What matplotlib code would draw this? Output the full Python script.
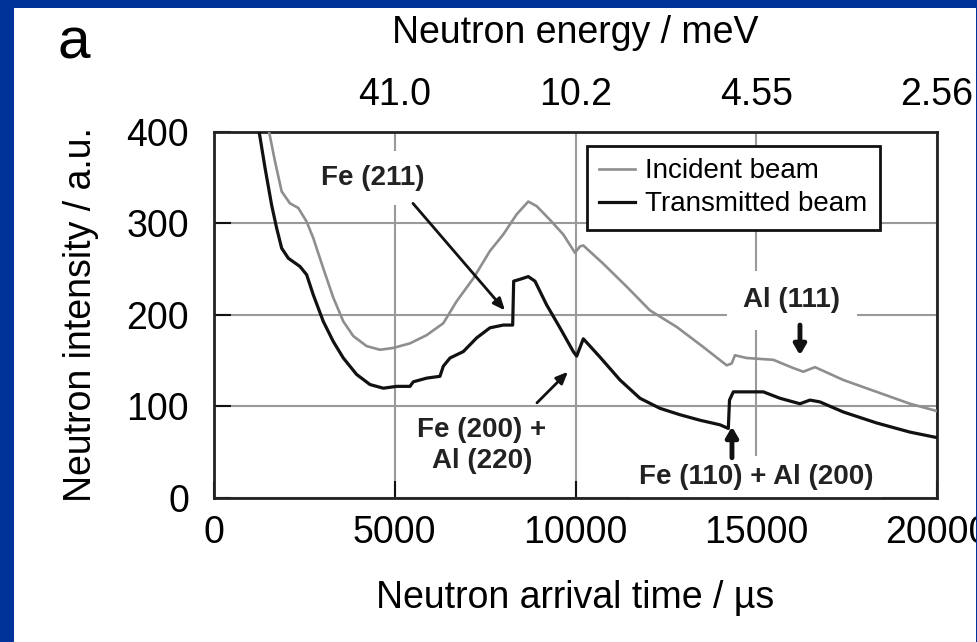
import matplotlib.pyplot as plt
from matplotlib.patches import Rectangle

plt.rcParams['font.family'] = ['Liberation Sans', 'DejaVu Sans']

# Arrival time (us) and intensity (a.u.) of the two beams
t_incident = [1350, 1530, 1687, 1872, 2102, 2332, 2563, 2747, 3023, 3300, 3577, 3853, 4223,
              4592, 4960, 5421, 5883, 6343, 6712, 7173, 7634, 8002, 8372, 8694, 8925, 9294,
              9662, 9985, 10124, 10216, 10769, 11415, 12060, 12798, 13535, 14181, 14319,
              14411, 14734, 15472, 16025, 16301, 16624, 17407, 18330, 19252, 20000]
i_incident = [440, 399, 368, 335, 322, 317, 302, 284, 251, 219, 193, 177, 166,
              162, 164, 169, 178, 191, 215, 240, 270, 288, 310, 324, 319, 304,
              288, 268, 275, 276, 256, 231, 205, 187, 165, 145, 147,
              156, 153, 151, 142, 138, 143, 129, 116, 103, 95]

t_transmitted = [1100, 1254, 1411, 1595, 1733, 1872, 2057, 2379, 2563, 2747, 3023, 3300, 3577,
                 3946, 4315, 4683, 5052, 5421, 5513, 5883, 6251, 6343, 6528, 6896, 7266, 7634,
                 8002, 8262, 8290, 8464, 8694, 8879, 9202, 9570, 9939, 10032, 10216, 10677,
                 11230, 11783, 12336, 12890, 13443, 13996, 14227, 14260, 14365, 14734, 15195,
                 15656, 16209, 16486, 16762, 17407, 18330, 19252, 20000]
i_transmitted = [440, 399, 361, 320, 295, 273, 262, 253, 244, 222, 193, 171, 153,
                 135, 124, 120, 122, 122, 127, 131, 133, 144, 153, 160, 175, 186,
                 189, 189, 237, 239, 242, 237, 211, 186, 160, 155, 174, 154,
                 129, 109, 98, 91, 85, 80, 76, 107, 116, 116, 116,
                 109, 103, 107, 105, 94, 82, 72, 66]

time_ticks = [0, 5000, 10000, 15000, 20000]
intensity_ticks = [0, 100, 200, 300, 400]
energy_ticks = [5000, 10000, 15000, 20000]
energy_labels = ['41.0', '10.2', '4.55', '2.56']

fig = plt.figure(figsize=(9.78, 6.42), dpi=100)
ax = fig.add_axes([0.2188, 0.2243, 0.7393, 0.5701])

ax.grid(True, color='#9a9a9a', linewidth=1.5, zorder=0)
ax.set_axisbelow(True)

ax.plot(t_incident, i_incident, color='#8e8e8e', linewidth=1.9, label='Incident beam', zorder=3)
ax.plot(t_transmitted, i_transmitted, color='#111111', linewidth=2.3, label='Transmitted beam', zorder=4)

ax.set_xlim(0, 20000)
ax.set_ylim(0, 400)
ax.set_xticks(time_ticks)
ax.set_yticks(intensity_ticks)
ax.tick_params(direction='in', length=12, width=1.5, labelsize=27, color='#111111')
ax.tick_params(axis='x', pad=12)
ax.tick_params(axis='y', pad=18)
for sp in ax.spines.values():
    sp.set_linewidth(2)
    sp.set_color('#222222')

ax.set_xlabel('Neutron arrival time / µs', fontsize=27, labelpad=21)
ax.set_ylabel('Neutron intensity / a.u.', fontsize=27, labelpad=20)

# energy scale along the top
ax_top = ax.twiny()
ax_top.set_xlim(ax.get_xlim())
ax_top.set_xticks(energy_ticks)
ax_top.set_xticklabels(energy_labels)
ax_top.tick_params(length=0, labelsize=27, pad=14)
for sp in ax_top.spines.values():
    sp.set_visible(False)
ax_top.set_xlabel('Neutron energy / meV', fontsize=27, labelpad=24)

leg = ax.legend(loc='upper right', bbox_to_anchor=(0.921, 0.962), borderaxespad=0,
                fontsize=20, fancybox=False, framealpha=1, edgecolor='#111111',
                handlelength=1.3, handletextpad=0.35, borderpad=0.45, labelspacing=0.25)
leg.get_frame().set_linewidth(2)
leg.set_zorder(6)

# reflection labels
box = dict(facecolor='white', edgecolor='none', boxstyle='square,pad=0.5')
ax.text(4398, 350, 'Fe (211)', fontsize=20, fontweight='bold', color='#222222',
        ha='center', va='center', bbox=box, zorder=2)
ax.text(15987, 216, 'Al (111)', fontsize=20, fontweight='bold', color='#222222',
        ha='center', va='center', bbox=dict(facecolor='white', edgecolor='none',
                                             boxstyle='square,pad=0.6'), zorder=2)
ax.text(14992, 23, 'Fe (110) + Al (200)', fontsize=20, fontweight='bold', color='#222222',
        ha='center', va='center', bbox=dict(facecolor='white', edgecolor='none',
                                             boxstyle='square,pad=0.3'), zorder=2)
ax.text(7413, 57, 'Fe (200) +\nAl (220)', fontsize=20, fontweight='bold', color='#222222',
        ha='center', va='center', linespacing=1.25, zorder=2)

thin = dict(arrowstyle='-|>,head_length=0.7,head_width=0.3', color='#111111', lw=2,
            shrinkA=0, shrinkB=0)
thick = dict(arrowstyle='-|>,head_length=0.6,head_width=0.35', color='#111111', lw=3.5,
             shrinkA=0, shrinkB=0)
ax.annotate('', xy=(8049, 205), xytext=(5504, 322), arrowprops=thin, zorder=5)
ax.annotate('', xy=(9792, 138), xytext=(8934, 104), arrowprops=thin, zorder=5)
ax.annotate('', xy=(16209, 156), xytext=(16209, 189), arrowprops=thick, zorder=5)
ax.annotate('', xy=(14328, 78), xytext=(14328, 44), arrowprops=thick, zorder=5)

fig.text(0.075, 0.932, 'a', fontsize=42, ha='center', va='center')

# blue slide border
blue = '#003399'
for rect in [(0, 0, 0.0143, 1), (0, 0.988, 1, 0.012), (0.998, 0, 0.002, 1)]:
    fig.patches.append(Rectangle(rect[:2], rect[2], rect[3], transform=fig.transFigure,
                                 facecolor=blue, edgecolor='none', zorder=10))

plt.savefig('out.png', dpi=100)
plt.close()
